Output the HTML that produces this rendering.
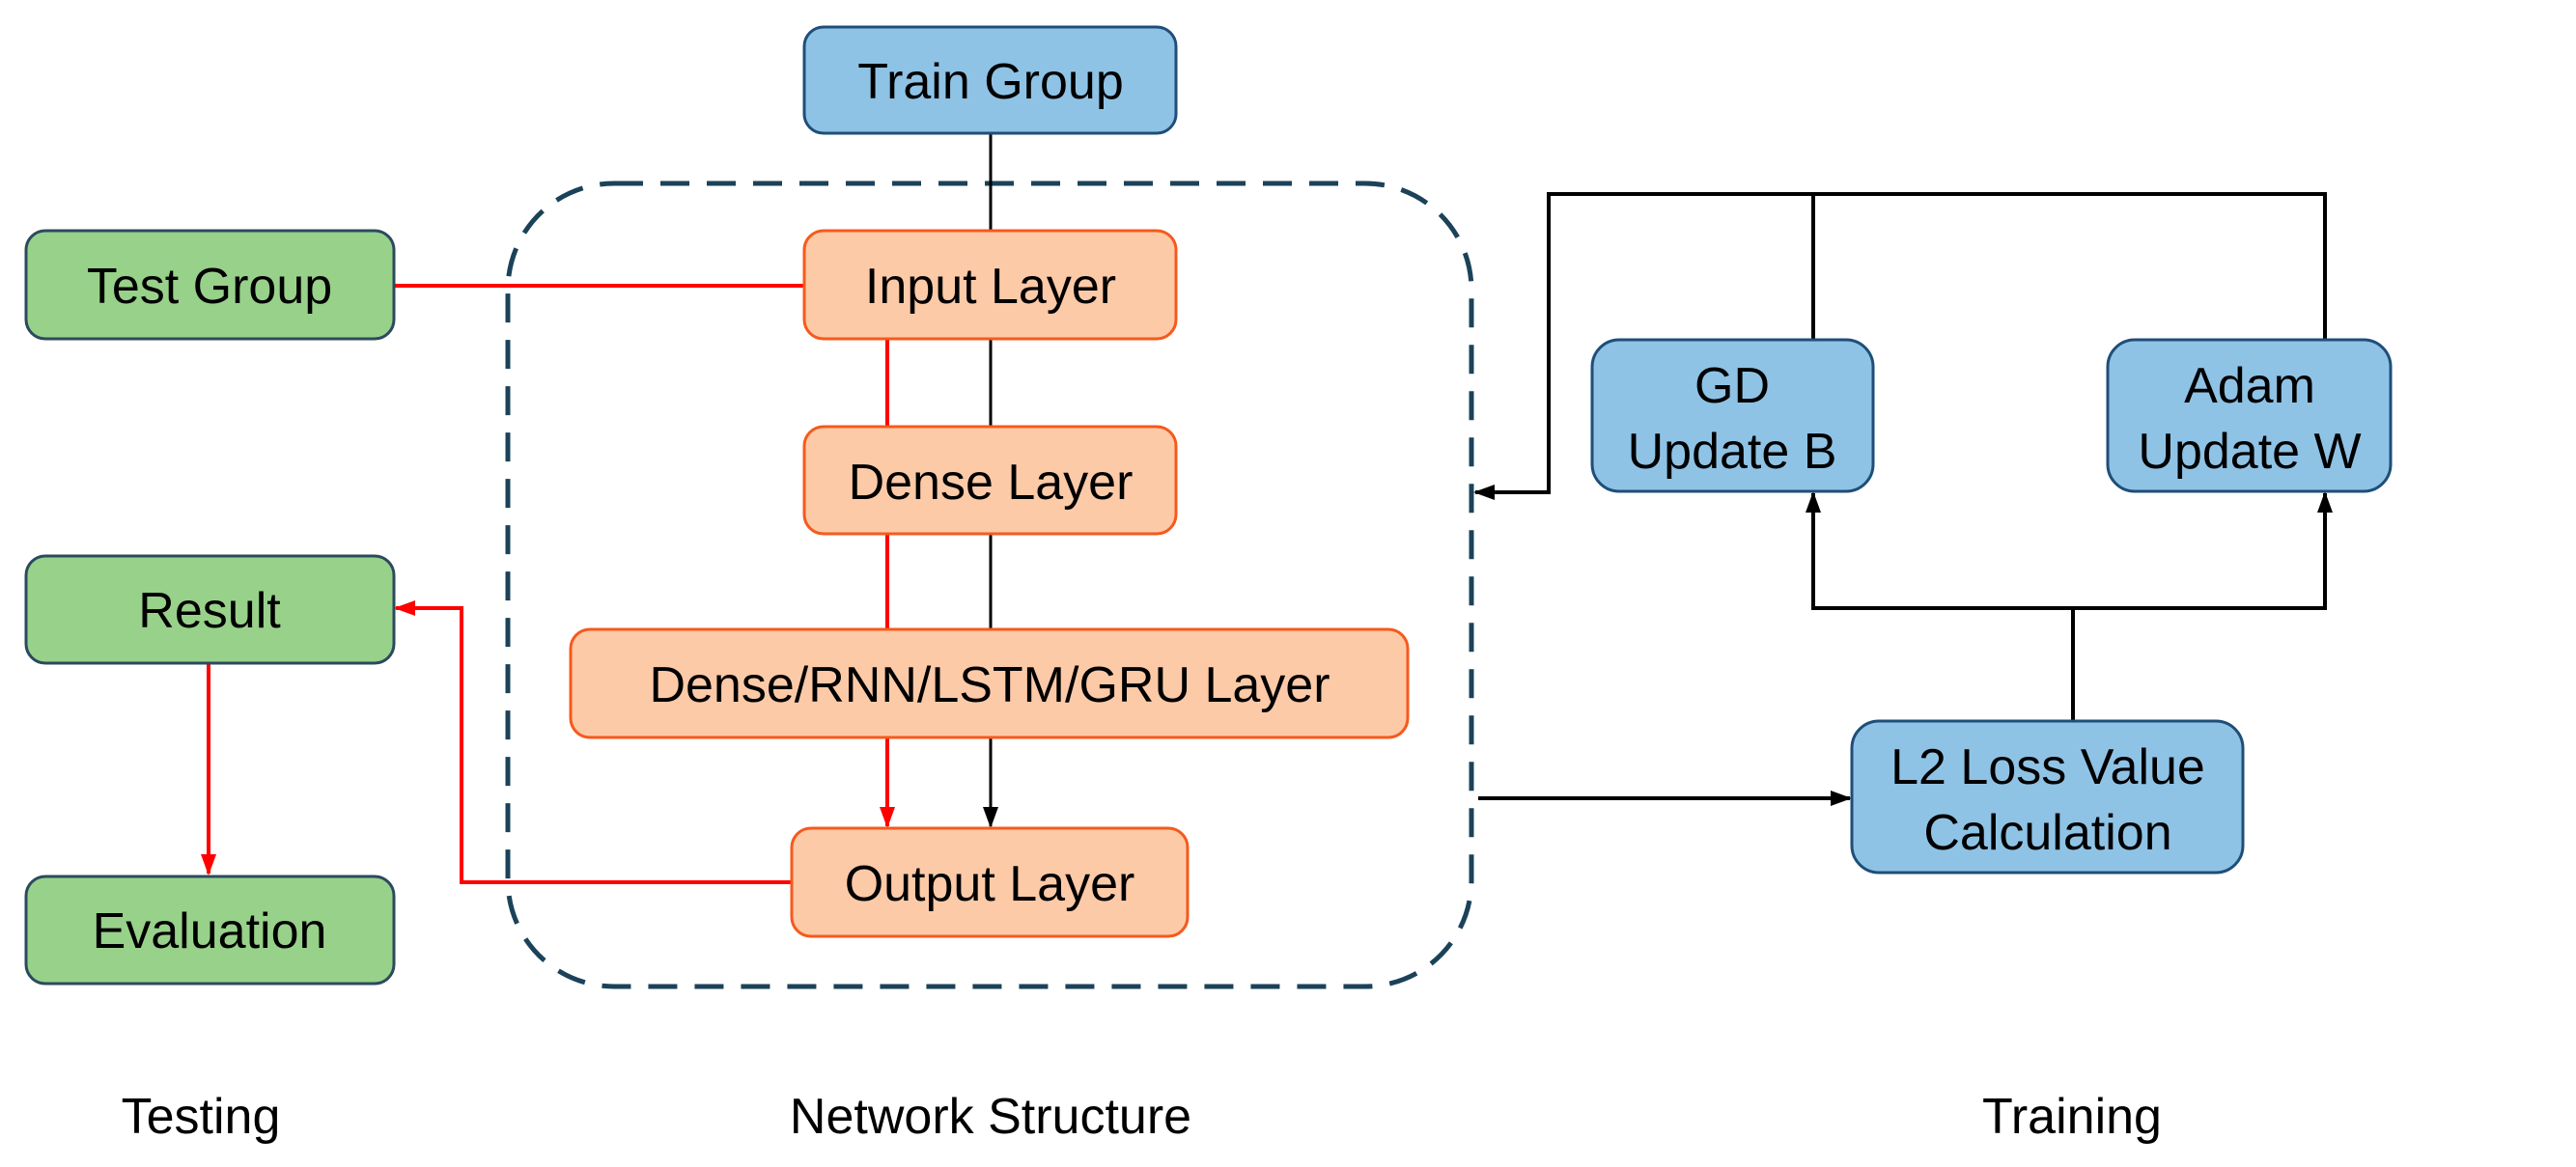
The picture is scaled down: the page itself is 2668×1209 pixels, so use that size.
<!DOCTYPE html>
<html><head><style>body{margin:0;background:#fff}svg{display:block}</style></head><body>
<svg width="2668" height="1209" viewBox="0 0 2668 1209" xmlns="http://www.w3.org/2000/svg" font-family="Liberation Sans, sans-serif" font-size="52" text-anchor="middle">
<defs>
<marker id="ar" markerWidth="22" markerHeight="22" refX="20" refY="11" orient="auto" markerUnits="userSpaceOnUse" viewBox="0 0 22 22"><path d="M0,3 L22,11 L0,19z" fill="#f00"/></marker>
<marker id="abk" markerWidth="22" markerHeight="22" refX="20" refY="11" orient="auto" markerUnits="userSpaceOnUse" viewBox="0 0 22 22"><path d="M0,3 L22,11 L0,19z" fill="#000"/></marker>
</defs>
<rect x="526" y="190" width="998" height="832" rx="110" fill="none" stroke="#1b4258" stroke-width="5" stroke-dasharray="30,18"/>
<line x1="1026" y1="138" x2="1026" y2="238" stroke="#000" stroke-width="3"/>
<line x1="1026" y1="351" x2="1026" y2="442" stroke="#000" stroke-width="3"/>
<line x1="1026" y1="553" x2="1026" y2="652" stroke="#000" stroke-width="3"/>
<line x1="1026" y1="764" x2="1026" y2="856" stroke="#000" stroke-width="3" marker-end="url(#abk)"/>
<line x1="408" y1="296" x2="832" y2="296" stroke="#f00" stroke-width="4"/>
<line x1="919" y1="351" x2="919" y2="442" stroke="#f00" stroke-width="4"/>
<line x1="919" y1="553" x2="919" y2="652" stroke="#f00" stroke-width="4"/>
<line x1="919" y1="764" x2="919" y2="856" stroke="#f00" stroke-width="4" marker-end="url(#ar)"/>
<polyline points="820,914 478,914 478,630 410,630" fill="none" stroke="#f00" stroke-width="4" marker-end="url(#ar)"/>
<line x1="216" y1="687" x2="216" y2="905" stroke="#f00" stroke-width="4" marker-end="url(#ar)"/>
<polyline points="1878,352 1878,201 2408,201 2408,352" fill="none" stroke="#000" stroke-width="4"/>
<polyline points="1878,201 1604,201 1604,510 1528,510" fill="none" stroke="#000" stroke-width="4" marker-end="url(#abk)"/>
<polyline points="2147,747 2147,630 1878,630 1878,511" fill="none" stroke="#000" stroke-width="4" marker-end="url(#abk)"/>
<polyline points="2147,630 2408,630 2408,511" fill="none" stroke="#000" stroke-width="4" marker-end="url(#abk)"/>
<line x1="1531" y1="827" x2="1916" y2="827" stroke="#000" stroke-width="4" marker-end="url(#abk)"/>
<g stroke-width="3">
<rect x="833" y="28" width="385" height="110" rx="20" fill="#8fc3e6" stroke="#1f4e79"/>
<rect x="27" y="239" width="381" height="112" rx="20" fill="#98d18a" stroke="#2c4a5e"/>
<rect x="27" y="576" width="381" height="111" rx="20" fill="#98d18a" stroke="#2c4a5e"/>
<rect x="27" y="908" width="381" height="111" rx="20" fill="#98d18a" stroke="#2c4a5e"/>
<rect x="833" y="239" width="385" height="112" rx="20" fill="#fdcaa8" stroke="#f55a1c"/>
<rect x="833" y="442" width="385" height="111" rx="20" fill="#fdcaa8" stroke="#f55a1c"/>
<rect x="591" y="652" width="867" height="112" rx="20" fill="#fdcaa8" stroke="#f55a1c"/>
<rect x="820" y="858" width="410" height="112" rx="20" fill="#fdcaa8" stroke="#f55a1c"/>
<rect x="1649" y="352" width="291" height="157" rx="28" fill="#8fc3e6" stroke="#1f4e79"/>
<rect x="2183" y="352" width="293" height="157" rx="28" fill="#8fc3e6" stroke="#1f4e79"/>
<rect x="1918" y="747" width="405" height="157" rx="28" fill="#8fc3e6" stroke="#1f4e79"/>
</g>
<g fill="#000">
<text x="1026" y="102">Train Group</text>
<text x="217" y="314">Test Group</text>
<text x="217" y="650">Result</text>
<text x="217" y="982">Evaluation</text>
<text x="1026" y="314">Input Layer</text>
<text x="1026" y="517">Dense Layer</text>
<text x="1025" y="727">Dense/RNN/LSTM/GRU Layer</text>
<text x="1025" y="933">Output Layer</text>
<text x="1794" y="417">GD</text>
<text x="1794" y="485">Update B</text>
<text x="2330" y="417">Adam</text>
<text x="2330" y="485">Update W</text>
<text x="2121" y="812">L2 Loss Value</text>
<text x="2121" y="880">Calculation</text>
<text x="208" y="1174">Testing</text>
<text x="1026" y="1174">Network Structure</text>
<text x="2146" y="1174">Training</text>
</g>
</svg>
</body></html>
